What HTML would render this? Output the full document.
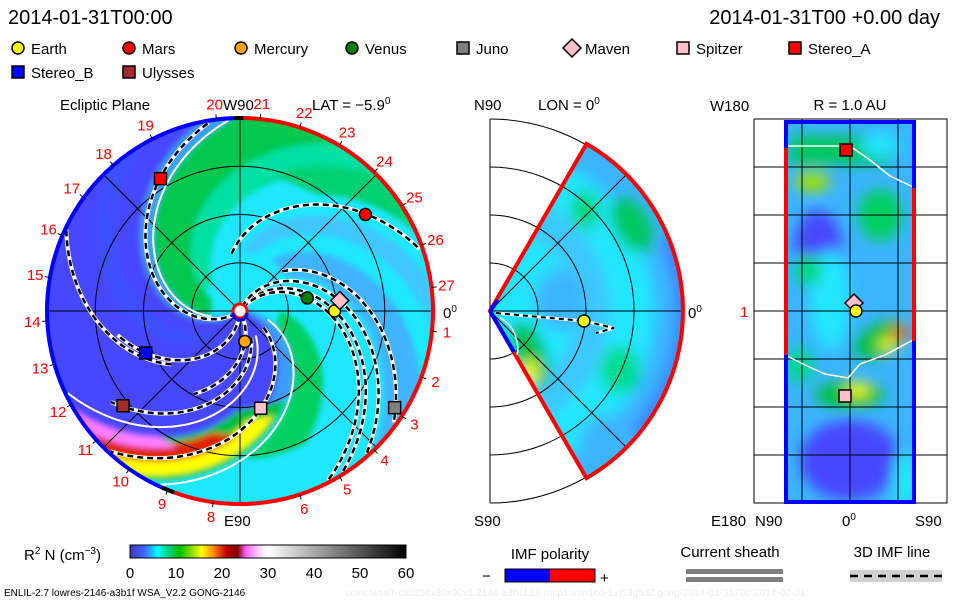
<!DOCTYPE html>
<html><head><meta charset="utf-8"><style>
html,body{margin:0;padding:0;background:#fff;}
svg{display:block;font-family:"Liberation Sans",sans-serif;}
</style></head><body>
<svg id="root" width="960" height="600" viewBox="0 0 960 600" xmlns="http://www.w3.org/2000/svg">
<defs>
<filter id="blur" x="-10%" y="-10%" width="120%" height="120%"><feGaussianBlur stdDeviation="3"/></filter>
<filter id="blur2" x="-30%" y="-30%" width="160%" height="160%"><feGaussianBlur stdDeviation="7"/></filter>
<clipPath id="mainClip"><circle cx="240" cy="311" r="193"/></clipPath>
<clipPath id="fanClip"><path d="M490,311 L586.5,143.9 A193,193 0 0 1 586.5,478.1 Z"/></clipPath>
<clipPath id="rectClip"><rect x="786" y="122" width="128" height="380"/></clipPath>
<linearGradient id="cbar" x1="0" x2="1" y1="0" y2="0">
<stop offset="0" stop-color="#3c3cb4"/><stop offset="0.05" stop-color="#4060ff"/><stop offset="0.1" stop-color="#00ffff"/>
<stop offset="0.14" stop-color="#00d080"/><stop offset="0.18" stop-color="#00c000"/><stop offset="0.23" stop-color="#a0e000"/>
<stop offset="0.26" stop-color="#ffff00"/><stop offset="0.3" stop-color="#ff9000"/><stop offset="0.35" stop-color="#c00000"/>
<stop offset="0.39" stop-color="#800000"/><stop offset="0.42" stop-color="#ff60ff"/><stop offset="0.47" stop-color="#ffd8ff"/>
<stop offset="0.5" stop-color="#ffffff"/><stop offset="1" stop-color="#000000"/>
</linearGradient>
</defs>

<text x="8" y="24" font-size="20">2014-01-31T00:00</text>
<text x="940" y="24" font-size="20" text-anchor="end">2014-01-31T00 +0.00 day</text>
<g id="legend" font-size="15"></g>

<g id="main">
<text x="60" y="110" font-size="15">Ecliptic Plane</text>
<text x="223" y="110" font-size="15">W90</text>
<text x="312" y="110" font-size="15">LAT = −5.9<tspan dy="-6" font-size="10">0</tspan></text>
<text x="224" y="526" font-size="15">E90</text>
<text x="443" y="318" font-size="15">0<tspan dy="-6" font-size="10">0</tspan></text>
<g id="field" clip-path="url(#mainClip)"></g>
<g id="mainGrid"></g>
<g id="mainLines"></g>
<g id="mainRim"></g>
<g id="mainMarks"></g>
<g id="rotNums" font-size="15" fill="#ff0000"></g>
</g>

<g id="mid">
<text x="474" y="110" font-size="15">N90</text>
<text x="538" y="110" font-size="15">LON = 0<tspan dy="-6" font-size="10">0</tspan></text>
<text x="474" y="526" font-size="15">S90</text>
<text x="688" y="318" font-size="15">0<tspan dy="-6" font-size="10">0</tspan></text>
<g clip-path="url(#fanClip)">
<rect x="480" y="110" width="220" height="400" fill="#3cb4ff"/>
<g filter="url(#blur2)">
<circle cx="490" cy="311" r="165" fill="#22e6ff"/>
<circle cx="490" cy="311" r="120" fill="#3cc8ff"/>
<circle cx="490" cy="311" r="85" fill="#22e6ff"/>
<ellipse cx="632" cy="225" rx="18" ry="30" fill="#00c860" transform="rotate(-30 632 225)"/>
<ellipse cx="585" cy="210" rx="14" ry="20" fill="#00d880"/>
<ellipse cx="530" cy="355" rx="16" ry="35" fill="#00c040" transform="rotate(-20 530 355)"/>
<ellipse cx="530" cy="372" rx="8" ry="12" fill="#ffff00"/>
<ellipse cx="620" cy="370" rx="20" ry="24" fill="#00dd90"/>
<ellipse cx="560" cy="300" rx="25" ry="30" fill="#3cb4ff"/>
<ellipse cx="610" cy="440" rx="30" ry="25" fill="#3cb4ff"/>
<path d="M675,230 A193,193 0 0 1 640,440 L630,430 A170,170 0 0 0 660,240 Z" fill="#3c80ff"/>
</g>
</g>
<g id="midGrid"></g>
</g>

<g id="rightp">
<text x="850" y="110" font-size="15" text-anchor="middle">R = 1.0 AU</text>
<text x="710" y="111" font-size="15">W180</text>
<text x="711" y="526" font-size="15">E180</text>
<text x="755" y="526" font-size="15">N90</text>
<text x="842" y="526" font-size="15">0<tspan dy="-6" font-size="10">0</tspan></text>
<text x="915" y="526" font-size="15">S90</text>
<text x="740" y="317" font-size="15" fill="#ff0000">1</text>
<g clip-path="url(#rectClip)">
<rect x="786" y="122" width="128" height="380" fill="#3cb4ff"/>
<g filter="url(#blur2)">
<rect x="790" y="135" width="100" height="30" fill="#00c860"/>
<ellipse cx="812" cy="182" rx="18" ry="10" fill="#a0e000"/>
<ellipse cx="818" cy="250" rx="24" ry="40" fill="#4646ff"/>
<ellipse cx="880" cy="215" rx="22" ry="26" fill="#00d060"/>
<ellipse cx="880" cy="145" rx="20" ry="12" fill="#22e6ff"/>
<ellipse cx="830" cy="300" rx="20" ry="50" fill="#22e6ff"/>
<ellipse cx="808" cy="270" rx="14" ry="16" fill="#00d880"/>
<ellipse cx="880" cy="340" rx="28" ry="16" fill="#00c040" transform="rotate(-30 880 340)"/>
<ellipse cx="900" cy="333" rx="9" ry="7" fill="#ff3000"/>
<ellipse cx="888" cy="345" rx="9" ry="6" fill="#ffff00"/>
<ellipse cx="850" cy="395" rx="35" ry="14" fill="#00c040"/>
<ellipse cx="858" cy="390" rx="12" ry="7" fill="#ffff00"/>
<ellipse cx="800" cy="365" rx="14" ry="18" fill="#00d890"/>
<ellipse cx="850" cy="460" rx="50" ry="40" fill="#4646ff"/>
<ellipse cx="905" cy="480" rx="12" ry="30" fill="#22e6ff"/>
</g>
</g>
<g id="rightGrid"></g>
</g>

<text x="24" y="560" font-size="15">R<tspan dy="-6" font-size="10">2</tspan><tspan dy="6"> N (cm</tspan><tspan dy="-6" font-size="10">−3</tspan><tspan dy="6">)</tspan></text>
<rect x="130" y="545" width="276" height="13" fill="url(#cbar)" stroke="#000" stroke-width="1"/>
<g id="cbTicks" font-size="15"></g>
<text x="550" y="559" font-size="15" text-anchor="middle">IMF polarity</text>
<text x="482" y="581" font-size="15">−</text>
<rect x="505" y="569" width="45" height="13" fill="#0000ff"/>
<rect x="550" y="569" width="45" height="13" fill="#ff0000"/>
<rect x="505" y="569" width="90" height="13" fill="none" stroke="#000" stroke-width="1"/>
<text x="600" y="583" font-size="15">+</text>
<text x="730" y="557" font-size="15" text-anchor="middle">Current sheath</text>
<rect x="686" y="569" width="97" height="5" fill="#808080"/>
<rect x="686" y="577" width="97" height="5" fill="#808080"/>
<text x="892" y="557" font-size="15" text-anchor="middle">3D IMF line</text>
<rect x="850" y="570" width="92" height="12" fill="#d0d0d0"/>
<line x1="850" y1="576" x2="942" y2="576" stroke="#000" stroke-width="2.5" stroke-dasharray="8,6"/>
<text x="4" y="596" font-size="10">ENLIL-2.7 lowres-2146-a3b1f WSA_V2.2 GONG-2146</text>
<text x="345" y="596" font-size="10" fill="#eeeeee">ccmc/wsafr-cld/256x30x90x1.2146-a3b1f.16-mcp1umn1cd-1.g53q5d2.gong-2014-01-31T00   2014-02-01</text>
</svg>
<script>
var NS='http://www.w3.org/2000/svg';
function mk(parent,tag,attrs){var e=document.createElementNS(NS,tag);for(var k in attrs)e.setAttribute(k,attrs[k]);parent.appendChild(e);return e;}
function $(id){return document.getElementById(id);}

// ---------- data ----------
var legendNames=['Earth','Mars','Mercury','Venus','Juno','Maven','Spitzer','Stereo_A','Stereo_B','Ulysses'];
var legendShapes=['circle','circle','circle','circle','square','diamond','square','square','square','square'];
var legendColors=['#ffff00','#ff0000','#ffa500','#008000','#808080','#ffc0cb','#ffc0cb','#ff0000','#0000ff','#a52a2a'];
var bodyNames=['Mercury','Venus','Earth','Maven','Mars','Juno','Spitzer','Stereo_A','Stereo_B','Ulysses'];
var bodyR=[0.32,0.71,0.98,1.04,1.64,1.89,1.03,1.60,1.07,1.56];
var bodyLon=[-81,11,0,6,37.6,-32,-78,121,204,219];
var imfPhi0=[214,266,310,57,133,78,-18,52,66,-62,270];
var imfRmin=[0.05,0.05,0.3,0.05,0.6,0.6,0.3,0.05,0.05,0.05,0.9];
var imfRmax=[2.0,1.3,1.65,2.0,2.0,2.0,2.0,2.0,2.0,1.0,2.0];
var hcsPhi0=[208,0,-40];
var colorTicks=[0,10,20,30,40,50,60];
var rotNumbers=['20','21','22','23','24','25','26','27','1','2','3','4','5','6','8','9','10','11','12','13','14','15','16','17','18','19'];
var rotAngles=[97,84,72,59,46,33,20,7,-6,-20,-33,-46,-59,-72,-98,-112,-125,-138,-151,-164,-177,-190,-203,-216,-229,-243];

// ---------- axes ----------
var CX=240,CY=311,AU=96.5,K=0.6;
function pr(r){return r*AU;}
function px(rpx,deg){return CX+rpx*Math.cos(deg*Math.PI/180);}
function py(rpx,deg){return CY-rpx*Math.sin(deg*Math.PI/180);}
function spiralPts(phi0,r0,r1){var p=[];for(var r=r0;r<=r1;r+=3){var a=phi0-K*r;p.push([px(r,a),py(r,a)]);}return p;}
function band(phi0a,phi0b,r0,r1){
  var a=spiralPts(phi0a,r0,r1),b=spiralPts(phi0b,r0,r1).reverse();
  var rEnd=r0+Math.floor((r1-r0)/3)*3;
  var aEnd=phi0a-K*rEnd,bEnd=phi0b-K*rEnd,arc=[];
  var R=rEnd>=190?240:rEnd;
  for(var s=1;s<20;s++){var ang=aEnd+(bEnd-aEnd)*s/20;arc.push([px(R,ang),py(R,ang)]);}
  var all=a.concat(arc).concat(b);
  return 'M'+all.map(function(q){return q[0].toFixed(1)+','+q[1].toFixed(1);}).join('L')+'Z';}

// ---------- legend ----------
var lg=$('legend');
var lx=[18,129,241,352,463,572,683,795,18,129];
for(var i=0;i<legendNames.length;i++){
  var x=lx[i],y=i<8?48:72;
  var g=mk(lg,'g',{});
  
  
  drawMarker(g,legendShapes[i],legendColors[i],x,y);
  var t=mk(g,'text',{x:x+13,y:y+6});t.textContent=legendNames[i];
}
function drawMarker(g,shape,col,x,y){
  if(shape==='circle')mk(g,'circle',{cx:x,cy:y,r:6,fill:col,stroke:'#000','stroke-width':1.5});
  else if(shape==='square')mk(g,'rect',{x:x-6,y:y-6,width:12,height:12,fill:col,stroke:'#000','stroke-width':1.5});
  else mk(g,'path',{d:'M'+x+','+(y-9)+'L'+(x+9)+','+y+'L'+x+','+(y+9)+'L'+(x-9)+','+y+'Z',fill:col,stroke:'#000','stroke-width':1.5});
}

// ---------- main field ----------
var f=$('field');
mk(f,'circle',{cx:CX,cy:CY,r:195,fill:'#1ee8ff'});
var fg=mk(f,'g',{filter:'url(#blur)'});
var bands=[
 [218,352,0,200,'#4646ff'],[236,250,40,200,'#3c50ff'],[208,218,0,200,'#3c9cff'],
 [176,208,30,200,'#00c850'],[155,176,40,200,'#00e0a0'],[140,160,140,200,'#00d070'],
 [70,95,60,200,'#40b4ff'],[110,125,60,200,'#40c8ff'],
 [-15,0,0,100,'#3c9cff'],[0,25,40,150,'#00d060'],
 [-32,-3,100,200,'#00c040'],[-20,-6,110,200,'#ffff00'],[-28,-16,125,200,'#e02000'],[-33,-25,150,200,'#ff80ff']
];
for(var i=0;i<bands.length;i++){var b=bands[i];var p=mk(fg,'path',{d:band(b[0],b[1],b[2],b[3]),fill:b[4]});
  }

var mg=$('mainGrid');
[1,2,3].forEach(function(n){var c=mk(mg,'circle',{cx:CX,cy:CY,r:pr(n*0.5),fill:'none',stroke:'#000','stroke-width':1});
  });
[0,45,90,135].forEach(function(a){var l=mk(mg,'line',{x1:px(193,a),y1:py(193,a),x2:px(193,a+180),y2:py(193,a+180),stroke:'#000','stroke-width':1});
  });

var ml=$('mainLines');
function spiralD(phi0,r0,r1){return 'M'+spiralPts(phi0,r0,r1).map(function(q){return q[0].toFixed(1)+','+q[1].toFixed(1);}).join('L');}
for(var i=0;i<hcsPhi0.length;i++){var h=mk(ml,'path',{d:spiralD(hcsPhi0[i],pr(0.3),pr(2)),fill:'none',stroke:'#fff','stroke-width':2,'clip-path':'url(#mainClip)'});
  }
for(var i=0;i<imfPhi0.length;i++){var d=spiralD(imfPhi0[i],pr(imfRmin[i]),Math.min(pr(imfRmax[i]),192));
  var g=mk(ml,'g',{});
  mk(g,'path',{d:d,fill:'none',stroke:'#fff','stroke-width':4});
  mk(g,'path',{d:d,fill:'none',stroke:'#000','stroke-width':2.5,'stroke-dasharray':'6,4'});}

var rim=$('mainRim');
function arcD(r,a0,a1){var x0=px(r,a0),y0=py(r,a0),x1=px(r,a1),y1=py(r,a1);var large=Math.abs(a1-a0)>180?1:0;var sweep=a1<a0?1:0;return 'M'+x0+','+y0+'A'+r+','+r+' 0 '+large+' '+sweep+' '+x1+','+y1;}
var rr=mk(rim,'path',{d:arcD(193,90,-110),fill:'none',stroke:'#ff0000','stroke-width':4});
var rb=mk(rim,'path',{d:arcD(193,92,250),fill:'none',stroke:'#0000ff','stroke-width':4});
mk(rim,'path',{d:arcD(193,92,89),fill:'none',stroke:'#000','stroke-width':4});
mk(rim,'path',{d:arcD(193,-110,-114),fill:'none',stroke:'#000','stroke-width':4});
var sun=mk(rim,'circle',{cx:CX,cy:CY,r:7,fill:'#fff',stroke:'#ff0000','stroke-width':3});
mk(rim,'path',{d:'M'+(CX-7)+','+(CY+2)+'A7,7 0 0 0 '+(CX+7)+','+(CY+2),fill:'none',stroke:'#0000ff','stroke-width':3});

var rn=$('rotNums');
for(var i=0;i<rotNumbers.length;i++){var a=rotAngles[i];var t=mk(rn,'text',{x:px(208,a),y:py(208,a)+5,'text-anchor':'middle'});t.textContent=rotNumbers[i];
  
  mk(rn,'line',{x1:px(193,a),y1:py(193,a),x2:px(198,a),y2:py(198,a),stroke:'#000','stroke-width':1});}

var mm=$('mainMarks');
for(var i=0;i<bodyNames.length;i++){var j=legendNames.indexOf(bodyNames[i]);var r=pr(bodyR[i]);
  var g=mk(mm,'g',{});
  drawMarker(g,legendShapes[j],legendColors[j],px(r,bodyLon[i]),py(r,bodyLon[i]));}

// ---------- middle grid ----------
var mgd=$('midGrid'),MX=490;
[48,96,144,192].forEach(function(r){var a=mk(mgd,'path',{d:'M'+MX+','+(CY-r)+'A'+r+','+r+' 0 0 1 '+MX+','+(CY+r),fill:'none',stroke:'#000','stroke-width':1});
  });
mk(mgd,'line',{x1:MX,y1:119,x2:MX,y2:503,stroke:'#000','stroke-width':1});
[45,0,-45].forEach(function(a){mk(mgd,'line',{x1:MX,y1:CY,x2:MX+192*Math.cos(a*Math.PI/180),y2:CY-192*Math.sin(a*Math.PI/180),stroke:'#000','stroke-width':1});});
var fe=mk(mgd,'path',{d:'M'+MX+','+CY+' L586.5,143.9 A193,193 0 0 1 586.5,478.1 Z',fill:'none',stroke:'#ff0000','stroke-width':4});

mk(mgd,'path',{d:'M'+MX+','+CY+'L498,300M'+MX+','+CY+'L514,352',fill:'none',stroke:'#0000ff','stroke-width':4});
mk(mgd,'path',{d:'M500,318 C515,325 520,345 517,355',fill:'none',stroke:'#fff','stroke-width':1.5});
var ml2=mk(mgd,'g',{});
mk(ml2,'path',{d:'M496,313 L584,321 L614,328 L596,333',fill:'none',stroke:'#fff','stroke-width':3});
mk(ml2,'path',{d:'M496,313 L584,321 L614,328 L596,333',fill:'none',stroke:'#000','stroke-width':2,'stroke-dasharray':'5,4'});
var me=mk(mgd,'circle',{cx:584,cy:321,r:6,fill:'#ffff00',stroke:'#000','stroke-width':1.5});

// ---------- right grid ----------
var rg=$('rightGrid');
mk(rg,'rect',{x:754,y:119,width:193,height:384,fill:'none',stroke:'#000','stroke-width':1});
for(var k=1;k<8;k++){var l=mk(rg,'line',{x1:754,y1:119+48*k,x2:947,y2:119+48*k,stroke:'#000','stroke-width':1});}
for(var k=1;k<4;k++){var l=mk(rg,'line',{x1:754+48*k,y1:119,x2:754+48*k,y2:503,stroke:'#000','stroke-width':1});}
mk(rg,'path',{d:'M787,146 L850,146 L870,160 L890,176 L913,187',fill:'none',stroke:'#fff','stroke-width':1.5});
mk(rg,'path',{d:'M787,356 L805,365 L825,374 L848,378 L860,364 L885,355 L913,340',fill:'none',stroke:'#fff','stroke-width':1.5});
var rb2=mk(rg,'rect',{x:786,y:122,width:128,height:380,fill:'none',stroke:'#0000ff','stroke-width':4});
mk(rg,'line',{x1:786,y1:148,x2:786,y2:355,stroke:'#ff0000','stroke-width':4});
mk(rg,'line',{x1:914,y1:188,x2:914,y2:341,stroke:'#ff0000','stroke-width':4});
var rm=[['square','#ff0000',846,150,'stereo_a'],['diamond','#ffc0cb',854,303,'maven'],['circle','#ffff00',856,311,'earth'],['square','#ffc0cb',845,396,'spitzer']];
rm.forEach(function(m){var g=mk(rg,'g',{});drawMarker(g,m[0],m[1],m[2],m[3]);});

var cb=$('cbTicks');
for(var i=0;i<colorTicks.length;i++){var x=130+276*colorTicks[i]/60;var t=mk(cb,'text',{x:x,y:578,'text-anchor':'middle'});t.textContent=colorTicks[i];
  }
</script>
</body></html>
